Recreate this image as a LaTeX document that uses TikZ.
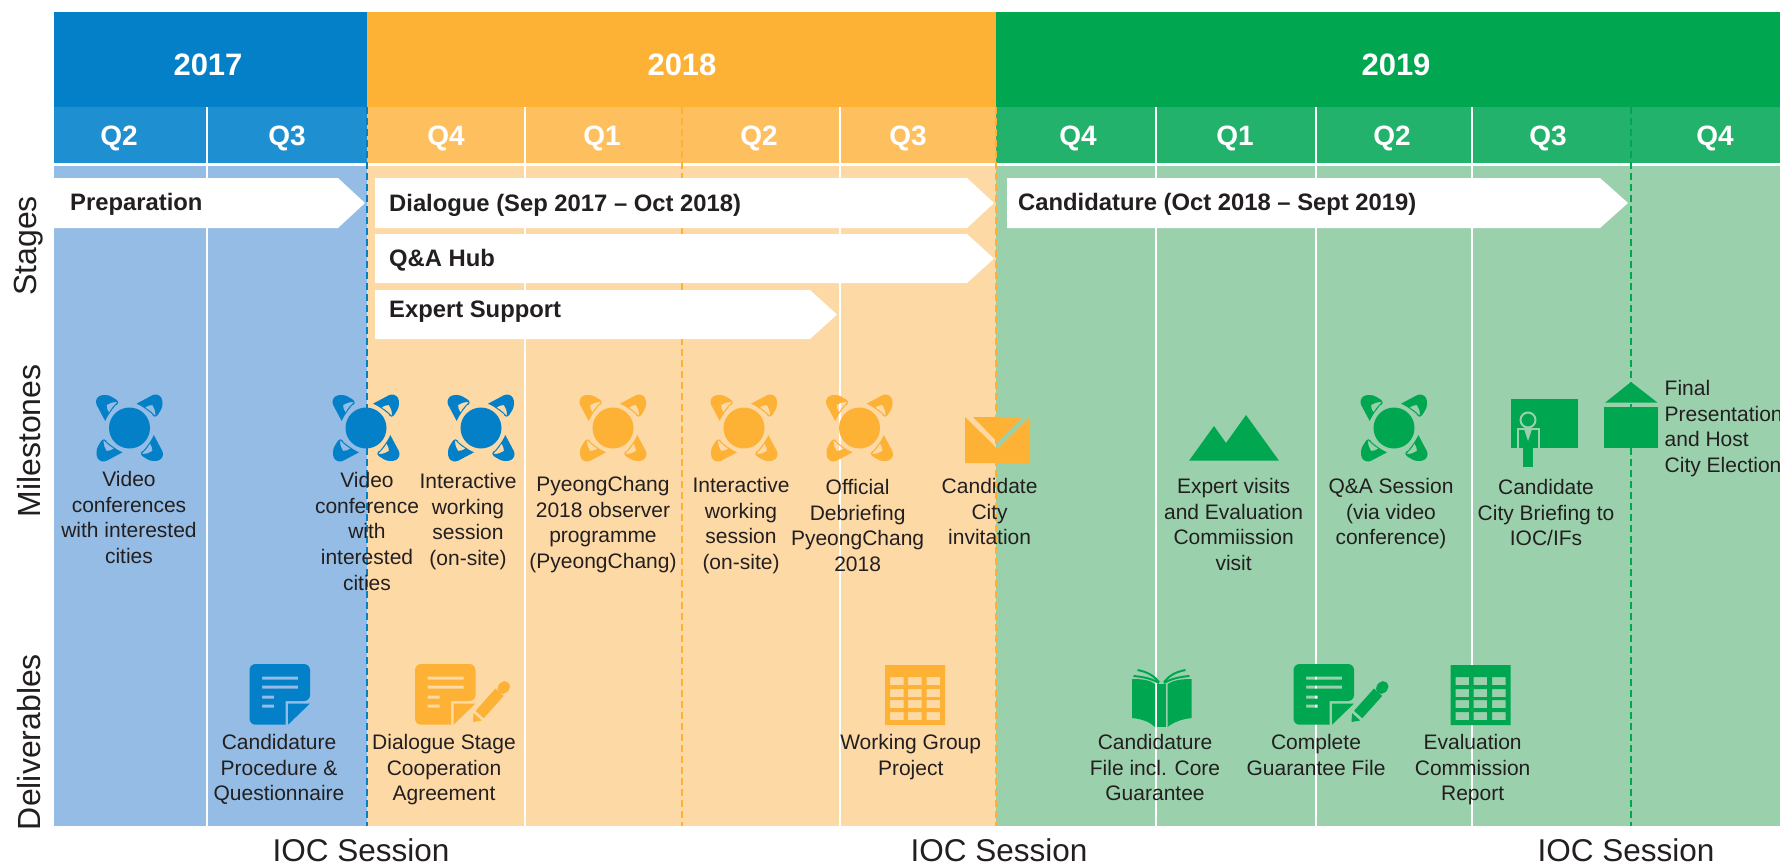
\documentclass[tikz,border=0pt]{standalone}
\usepackage{fontspec}
\setmainfont{Liberation Sans}
\usepackage{xcolor}
\usetikzlibrary{positioning}
\definecolor{blueY}{HTML}{0480C8}
\definecolor{blueQ}{HTML}{1E90D2}
\definecolor{blueB}{HTML}{94BCE4}
\definecolor{orangeY}{HTML}{FDB235}
\definecolor{orangeQ}{HTML}{FEC05E}
\definecolor{orangeB}{HTML}{FDD9A6}
\definecolor{greenY}{HTML}{00A650}
\definecolor{greenQ}{HTML}{22B26C}
\definecolor{greenB}{HTML}{9AD1AC}
\definecolor{inkc}{HTML}{231F20}
\tikzset{
  yearlabel/.style={text=white, font=\fontsize{31}{31}\selectfont\bfseries, inner sep=0pt},
  quarterlabel/.style={text=white, font=\fontsize{28}{28}\selectfont\bfseries, inner sep=0pt},
  sidelabel/.style={rotate=90, text=inkc, font=\fontsize{32}{32}\selectfont, inner sep=0pt},
  stagelabel/.style={anchor=west, text=inkc, font=\fontsize{23.8}{24}\selectfont\bfseries, inner sep=0pt},
  sessionlabel/.style={text=inkc, font=\fontsize{31.5}{31.5}\selectfont, inner sep=0pt},
  eventlabel/.style={anchor=north, align=center, text=inkc, font=\fontsize{21}{25.7}\selectfont,
    inner sep=0pt, execute at begin node={\rule{0pt}{17pt}}},
  quarterline/.style={draw=white, line width=2pt},
  yearline/.style={line width=2.2pt, dash pattern=on 6.5pt off 4.5pt},
  stagearrow/.style={fill=white},
  bookleaf/.style={draw=greenY, line width=2pt},
  pics/meeting/.style={code={
    \fill[#1] (0,0) circle (20.5);
    \foreach \ang in {0,90,180,270}
      \fill[#1, rotate=\ang, even odd rule]
        [rounded corners=7pt] (7,-24.3) -- (29,-36) -- (35,-24) -- (25,-7.7)
        [sharp corners] .. controls (22.5,-14) and (14,-21.5) .. (7,-24.3) -- cycle
        (15.5,-20.5) .. controls (20,-18) and (23,-15) .. (26,-12)
          .. controls (26,-17) and (25,-20) .. (23,-23)
          .. controls (20,-23) and (18,-22) .. (15.5,-20.5) -- cycle;
  }},
  pics/paper/.style={code={
    \fill[#1, even odd rule]
      [rounded corners=6pt] (0,0) -- (60.5,0) -- (60.5,37)
      [sharp corners] -- (36,37) -- (36,60.7)
      [rounded corners=6pt] -- (0,60.7) -- cycle
      [sharp corners]
      (12.5,12.5) rectangle (48.5,15.5)
      (12.5,21.5) rectangle (48.5,24.5)
      (12.5,31.5) rectangle (24.5,34.5)
      (12.5,40.5) rectangle (24.5,43.5);
    \fill[#1] (38.5,39.5) -- (60.5,39.5) -- (38.5,60.7) -- cycle;
  }},
  pics/pencil/.style={code={
    \fill[#1] (68.75,54.2) -- (88.7,31.9) -- (80.5,24.5) -- (60.55,46.8) -- cycle;
    \fill[#1] (58,58) -- (66.75,56.5) -- (58.55,49.1) -- cycle;
    \draw[#1, line width=11pt, line cap=round] (87.9,24.4) -- (89.5,22.6);
  }},
  pics/grid/.style={code={
    \fill[#1, even odd rule] (0,0) rectangle (60,60)
      \foreach \cx in {5,23,41.5} { \foreach \cy in {12,24,35,47} {
        (\cx,\cy) rectangle ++(13.5,8) } };
  }}
}
\begin{document}
\begin{tikzpicture}[x=1pt,y=-1pt]
\useasboundingbox (0,0) rectangle (1780,865);
% bands
\fill[blueY] (54,12) rectangle (367,107);
\fill[orangeY] (367,12) rectangle (996,107);
\fill[greenY] (996,12) rectangle (1780,107);
\fill[blueQ] (54,107) rectangle (367,163);
\fill[orangeQ] (367,107) rectangle (996,163);
\fill[greenQ] (996,107) rectangle (1780,163);
\fill[blueB] (54,165.5) rectangle (367,825.5);
\fill[orangeB] (367,165.5) rectangle (996,825.5);
\fill[greenB] (996,165.5) rectangle (1780,825.5);
\foreach \qx in {206.7,525,839.5,1155.7,1315.5,1471.7}
  \draw[quarterline] (\qx,107) -- (\qx,825.5);
\draw[yearline, blueY] (367,107) -- (367,825.5);
\draw[yearline, orangeY] (682,107) -- (682,825.5);
\draw[yearline, orangeY] (996,107) -- (996,825.5);
\draw[yearline, greenY] (1631,107) -- (1631,825.5);
% stages
\fill[stagearrow] (54,178) -- (338,178) -- (365,203) -- (338,228) -- (54,228) -- cycle;
\fill[stagearrow] (375,178) -- (967,178) -- (994,203) -- (967,228) -- (375,228) -- cycle;
\fill[stagearrow] (375,234) -- (967,234) -- (994,258.5) -- (967,283) -- (375,283) -- cycle;
\fill[stagearrow] (375,290) -- (810,290) -- (837,314.5) -- (810,339) -- (375,339) -- cycle;
\fill[stagearrow] (1007,178) -- (1600,178) -- (1628,203) -- (1600,228) -- (1007,228) -- cycle;
\node[stagelabel] (preparation) at (70,204.5) {Preparation};
\node[stagelabel] (dialogue) at (389,205.5) {Dialogue (Sep 2017 – Oct 2018)};
\node[stagelabel] (qahub) at (389,260) {Q\&A Hub};
\node[stagelabel] (expert) at (389,312) {Expert Support};
\node[stagelabel] (candidature) at (1018,204.5) {Candidature (Oct 2018 – Sept 2019)};
% headers
\node[yearlabel] (y2017) at (208,65) {2017};
\node[yearlabel] (y2018) at (682,65) {2018};
\node[yearlabel] (y2019) at (1396,65) {2019};
\foreach \qname/\qx/\qtext in {a/119/Q2,b/287/Q3,c/446/Q4,d/602/Q1,e/759/Q2,f/908/Q3,g/1078/Q4,h/1235/Q1,i/1392/Q2,j/1548/Q3,k/1715/Q4}
  \node[quarterlabel] (q\qname) at (\qx,138) {\qtext};
\node[sidelabel] (stages) at (29,246) {Stages};
\node[sidelabel] (milestones) at (29,441) {Milestones};
\node[sidelabel] (deliverables) at (29,742) {Deliverables};
% milestone icons
\pic (m1) at (129.5,428) {meeting=blueY};
\pic (m2) at (366,428) {meeting=blueY};
\pic (m3) at (481,428) {meeting=blueY};
\pic (m4) at (613,428) {meeting=orangeY};
\pic (m5) at (744,428) {meeting=orangeY};
\pic (m6) at (859.5,428) {meeting=orangeY};
\pic (m7) at (1394,428) {meeting=greenY};
% envelope
\fill[orangeY] (965,417) -- (997.5,449) -- (1030,417) -- (1030,463) -- (965,463) -- cycle;
\fill[orangeY] (973,417) -- (1023,417) -- (997.5,442) -- cycle;
% mountains
\fill[greenY] (1189,460.7) -- (1214,426) -- (1226,443) -- (1246,415) -- (1279,460.7) -- cycle;
% briefing
\fill[greenY] (1510.6,399) rectangle (1578,447.7);
\fill[greenY, draw=greenB, line width=2pt] (1528,420) circle (7.5);
\fill[greenY, draw=greenB, line width=2pt] (1517.5,429) -- (1539,429) -- (1539,449) -- (1534,449) -- (1534,467.7) -- (1522,467.7) -- (1522,449) -- (1517.5,449) -- cycle;
\fill[greenB] (1524,429) -- (1532,429) -- (1528,441) -- cycle;
% election
\fill[greenY] (1631,382) -- (1657.6,402.7) -- (1605,402.7) -- cycle;
\fill[greenY] (1604,407) rectangle (1658,448);
% deliverable icons
\pic (d1) at (249.5,664) {paper=blueY};
\pic (d2) at (415,664) {paper=orangeY};
\pic (d2p) at (415,664) {pencil=orangeY};
\pic (d3) at (885,665) {grid=orangeY};
% book
\fill[greenY] (1132,679) .. controls (1142,679) and (1150,680) .. (1155,684) -- (1155,727) .. controls (1150,722) and (1142,719) .. (1132,718) -- cycle;
\fill[greenY] (1191.7,679) .. controls (1182,679) and (1174,680) .. (1167.5,684) -- (1167.5,727) .. controls (1174,722) and (1182,719) .. (1191.7,718) -- cycle;
\fill[greenY] (1156.7,684) rectangle (1166,727);
\draw[bookleaf] (1133.5,676) .. controls (1145,677) and (1152,679) .. (1159,683);
\draw[bookleaf] (1137.5,670) .. controls (1148,672) and (1154,676) .. (1159,682);
\draw[bookleaf] (1189.5,676) .. controls (1178,677) and (1171,679) .. (1164,683);
\draw[bookleaf] (1185.5,670) .. controls (1175,672) and (1169,676) .. (1164,682);
\pic (d5) at (1293.5,664) {paper=greenY};
\pic (d5p) at (1293.5,664) {pencil=greenY};
\pic (d6) at (1450.7,665) {grid=greenY};
% milestone texts
\node[eventlabel] (t1) at (129,471) {Video\\conferences\\with interested\\cities};
\node[eventlabel] (t2) at (367,472) {Video\\conference\\with\\interested\\cities};
\node[eventlabel] (t3) at (468,473) {Interactive\\working\\session\\(on-site)};
\node[eventlabel] (t4) at (603,476) {PyeongChang\\2018 observer\\programme\\(PyeongChang)};
\node[eventlabel] (t5) at (741,477) {Interactive\\working\\session\\(on-site)};
\node[eventlabel] (t6) at (857.6,479) {Official\\Debriefing\\PyeongChang\\2018};
\node[eventlabel] (t7) at (989.6,478) {Candidate\\City\\invitation};
\node[eventlabel] (t8) at (1233.6,478) {Expert visits\\and Evaluation\\Commiission\\visit};
\node[eventlabel] (t9) at (1391,478) {Q\&A Session\\(via video\\conference)};
\node[eventlabel] (t10) at (1546,479) {Candidate\\City Briefing to\\IOC/IFs};
\node[eventlabel, align=left, anchor=north west] (t11) at (1664.5,380) {Final\\Presentation\\and Host\\City Election};
% deliverable texts
\node[eventlabel] (l1) at (279,734) {Candidature\\Procedure \&\\Questionnaire};
\node[eventlabel] (l2) at (444,734) {Dialogue Stage\\Cooperation\\Agreement};
\node[eventlabel] (l3) at (910.7,734) {Working Group\\Project};
\node[eventlabel] (l4) at (1155,734) {Candidature\\File incl. Core\\Guarantee};
\node[eventlabel] (l5) at (1316,734) {Complete\\Guarantee File};
\node[eventlabel] (l6) at (1472.6,734) {Evaluation\\Commission\\Report};
% sessions
\node[sessionlabel] (s1) at (361,850) {IOC Session};
\node[sessionlabel] (s2) at (999,850) {IOC Session};
\node[sessionlabel] (s3) at (1626,850) {IOC Session};
\end{tikzpicture}
\end{document}
